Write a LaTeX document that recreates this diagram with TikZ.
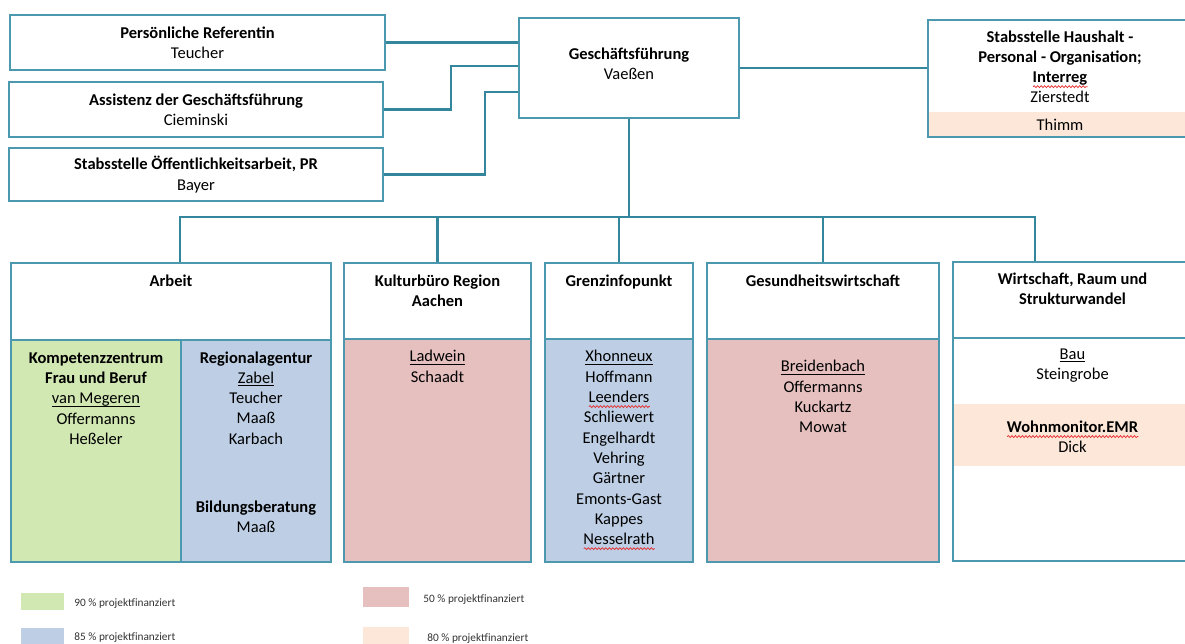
\documentclass[tikz,border=0pt]{standalone}
\usepackage{fontspec}
\setmainfont{Carlito}
\usetikzlibrary{positioning,decorations.pathmorphing}

\definecolor{rand}{RGB}{75,152,175}
\definecolor{verbinder}{RGB}{52,134,157}
\definecolor{gruen}{RGB}{209,232,179}
\definecolor{blau}{RGB}{190,207,229}
\definecolor{rosa}{RGB}{230,191,191}
\definecolor{pfirsich}{RGB}{252,231,216}
\definecolor{rotwelle}{RGB}{230,40,40}

\newsavebox{\wortbox}
\newdimen\wortbreite
\newcommand{\unterstr}[1]{\leavevmode\sbox{\wortbox}{#1}\rlap{\rule[-3pt]{\wd\wortbox}{1.1pt}}\usebox{\wortbox}}
\newcommand{\rotwellig}[1]{\leavevmode\sbox{\wortbox}{#1}\wortbreite=\wd\wortbox
    \rlap{\smash{\tikz[x=1pt, y=1pt, baseline=0pt]\draw[rotwelle, line width=0.7pt, decorate,
        decoration={snake, amplitude=1pt, segment length=3.5pt}] (0,-4) -- (\the\wortbreite,-4);}}\usebox{\wortbox}}

\begin{document}
\begin{tikzpicture}[x=1pt, y=-1pt,
    kasten/.style={draw=rand, line width=1.4pt, inner sep=0},
    txt/.style={align=center, inner sep=0, font=\fontsize{16.5}{20.3}\selectfont},
    verbindung/.style={draw=verbinder, line width=2.6pt},
    legende/.style={inner sep=0, text=black!80, font=\fontsize{11.3}{13}\selectfont}]
    \useasboundingbox (0,0) rectangle (1185,644);

    % 1. Stabsstellen links
    \node[kasten, txt, minimum width=375pt, minimum height=55pt] (ref) at (197.5,42.5) {\textbf{Persönliche Referentin}\\Teucher};
    \node[kasten, txt, minimum width=374pt, minimum height=55pt] (ass) at (196,109.5) {\textbf{Assistenz der Geschäftsführung}\\Cieminski};
    \node[kasten, txt, minimum width=374pt, minimum height=53pt] (oef) at (196,174.5) {\textbf{Stabsstelle Öffentlichkeitsarbeit, PR}\\Bayer};

    % 2. Geschäftsführung
    \node[kasten, minimum width=220pt, minimum height=100pt] (gf) at (629,68) {};
    \node[txt, below=30pt of gf.north] (gftxt) {\textbf{Geschäftsführung}\\Vaeßen};

    % 3. Stabsstelle rechts (Thimm im 80 %-Band)
    \node[txt, fill=pfirsich, minimum width=263pt, minimum height=25pt] (thimm) at (1060,124.5) {Thimm};
    \node[kasten, minimum width=264pt, minimum height=117pt] (has) at (1060,78.5) {};
    \node[txt, below=11pt of has.north] (hastxt) {\textbf{Stabsstelle Haushalt -}\\\textbf{Personal - Organisation;}\\\rotwellig{\textbf{Interreg}}\\Zierstedt};

    % 4. Arbeit
    \node[kasten, minimum width=320pt, minimum height=77pt] (arbeit) at (171,301.5) {};
    \node[txt, below=12pt of arbeit.north] (arbeittxt) {\textbf{Arbeit}};
    \node[kasten, fill=gruen, minimum width=170pt, minimum height=222pt] (kfb) at (96,451) {};
    \node[kasten, fill=blau, minimum width=150pt, minimum height=222pt] (regio) at (256,451) {};
    \node[txt, below=13pt of kfb.north] (kfbtxt) {\textbf{Kompetenzzentrum}\\\textbf{Frau und Beruf}\\\unterstr{van Megeren}\\Offermanns\\Heßeler};
    \node[txt, below=12pt of regio.north] (regiotxt) {\textbf{Regionalagentur}\\\unterstr{Zabel}\\Teucher\\Maaß\\Karbach};
    \node[txt, below=161pt of regio.north] (bbtxt) {\textbf{Bildungsberatung}\\Maaß};

    % 5. Kulturbüro
    \node[kasten, minimum width=187pt, minimum height=76pt] (kult) at (437.5,301) {};
    \node[txt, below=12pt of kult.north] (kulttxt) {\textbf{Kulturbüro Region}\\\textbf{Aachen}};
    \node[kasten, fill=rosa, minimum width=187pt, minimum height=223pt] (kultk) at (437.5,450.5) {};
    \node[txt, below=12pt of kultk.north] (kultktxt) {\unterstr{Ladwein}\\Schaadt};

    % 6. Grenzinfopunkt
    \node[kasten, minimum width=148pt, minimum height=76pt] (grenz) at (619,301) {};
    \node[txt, below=12pt of grenz.north] (grenztxt) {\textbf{Grenzinfopunkt}};
    \node[kasten, fill=blau, minimum width=148pt, minimum height=223pt] (grenzk) at (619,450.5) {};
    \node[txt, below=12pt of grenzk.north] (grenzktxt) {\unterstr{Xhonneux}\\Hoffmann\\\rotwellig{Leenders}\\Schliewert\\Engelhardt\\Vehring\\Gärtner\\Emonts-Gast\\Kappes\\\rotwellig{Nesselrath}};

    % 7. Gesundheitswirtschaft
    \node[kasten, minimum width=232pt, minimum height=76pt] (gesund) at (823,301) {};
    \node[txt, below=12pt of gesund.north] (gesundtxt) {\textbf{Gesundheitswirtschaft}};
    \node[kasten, fill=rosa, minimum width=232pt, minimum height=223pt] (gesundk) at (823,450.5) {};
    \node[txt, below=22pt of gesundk.north] (gesundktxt) {\unterstr{Breidenbach}\\Offermanns\\Kuckartz\\Mowat};

    % 8. Wirtschaft, Raum und Strukturwandel
    \node[kasten, minimum width=239pt, minimum height=76pt] (wirt) at (1072.5,300) {};
    \node[txt, below=11pt of wirt.north] (wirttxt) {\textbf{Wirtschaft, Raum und}\\\textbf{Strukturwandel}};
    \node[fill=pfirsich, minimum width=238pt, minimum height=62pt, inner sep=0] (wohn) at (1072.5,435) {};
    \node[kasten, minimum width=239pt, minimum height=223pt] (wirtk) at (1072.5,449.5) {};
    \node[txt, below=11pt of wirtk.north] (wirtktxt) {\unterstr{Bau}\\Steingrobe};
    \node[txt, below=17pt of wohn.north] (wohntxt) {\rotwellig{\textbf{Wohnmonitor.EMR}}\\Dick};

    % 9. Verbindungen
    \draw[verbindung] (ref.east) -- (ref.east -| gf.west);
    \draw[verbindung] (ass.east) -| (451,66) -- (gf.west |- 451,66);
    \draw[verbindung] (oef.east) -| (485,92) -- (gf.west |- 485,92);
    \draw[verbindung] (gf.east) -- (gf.east -| has.west);
    \coordinate (busL) at (180,217);
    \coordinate (busR) at (1035,217);
    \draw[verbindung] (gf.south) -- (gf.south |- busL);
    \draw[verbindung] (busL |- arbeit.north) -- (busL) -- (busR) -- (busR |- wirt.north);
    \foreach \n in {kult, grenz, gesund}
        \draw[verbindung] (\n.north) -- (\n.north |- busL);

    % 10. Legende
    \node[fill=gruen, minimum width=43pt, minimum height=17pt, inner sep=0] (lg1) at (42.5,601.5) {};
    \node[legende, right=10pt of lg1, yshift=-2pt] (lt1) {90 \% projektfinanziert};
    \node[fill=blau, minimum width=43pt, minimum height=17pt, inner sep=0] (lg2) at (42.5,636) {};
    \node[legende, right=10pt of lg2, yshift=-2pt] (lt2) {85 \% projektfinanziert};
    \node[fill=rosa, minimum width=46pt, minimum height=20pt, inner sep=0] (lg3) at (386,597) {};
    \node[legende, right=14pt of lg3, yshift=-3pt] (lt3) {50 \% projektfinanziert};
    \node[fill=pfirsich, minimum width=46pt, minimum height=20pt, inner sep=0] (lg4) at (386,637) {};
    \node[legende, right=18pt of lg4, yshift=-2pt] (lt4) {80 \% projektfinanziert};

\end{tikzpicture}
\end{document}
